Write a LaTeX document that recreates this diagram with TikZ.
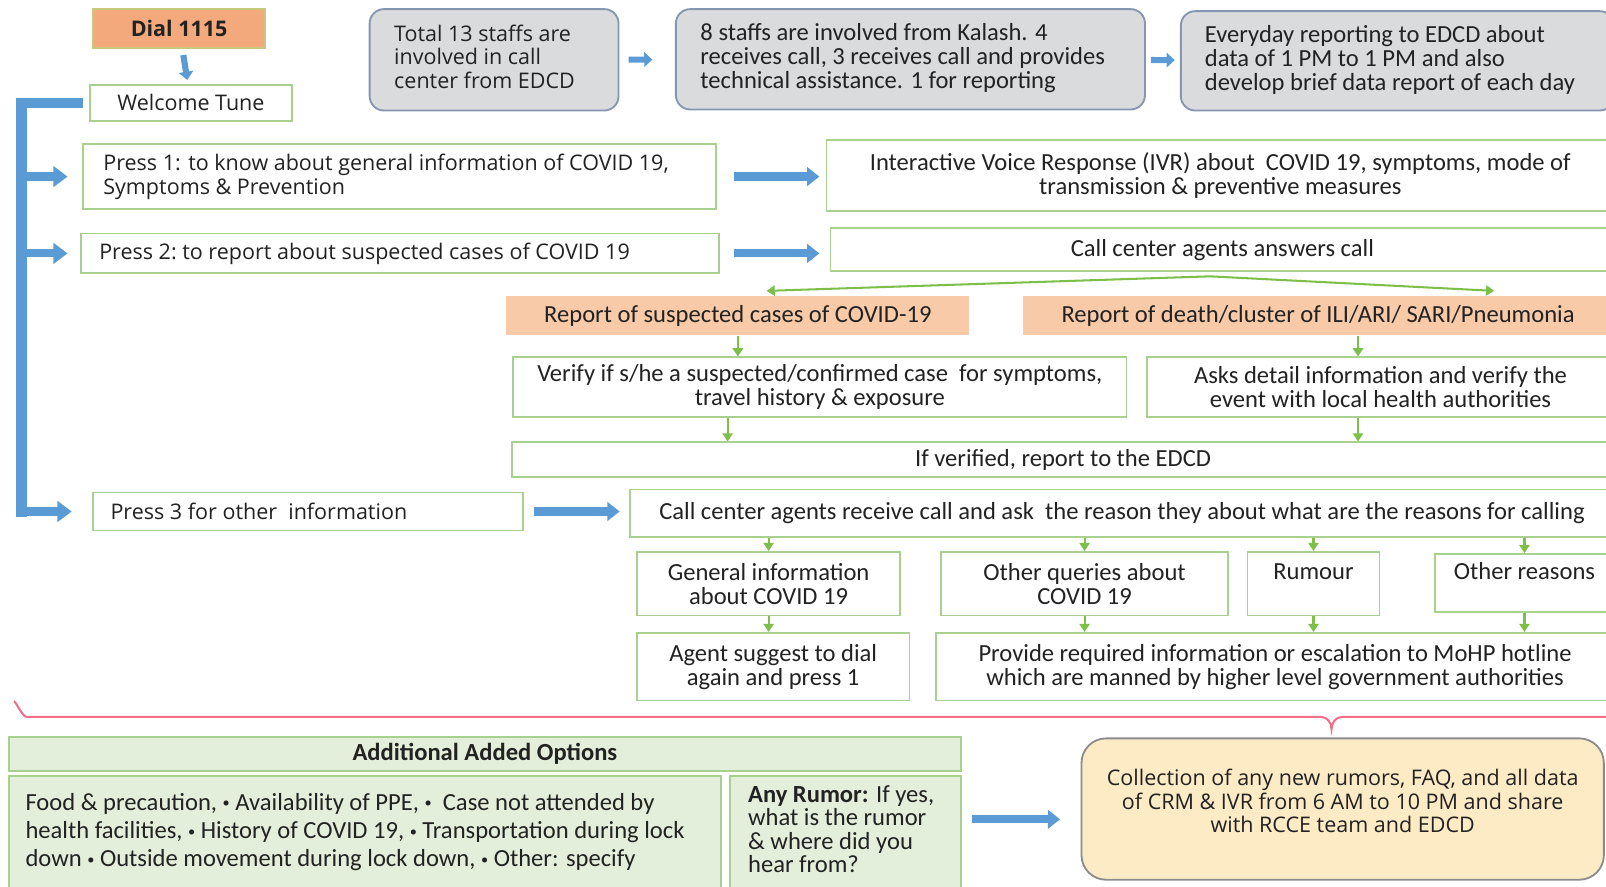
\documentclass[tikz,border=0pt]{standalone}
\usepackage{fontspec}
\setmainfont{Carlito}
\newfontfamily\osans{Open Sans}
\usepackage{xcolor}
\usetikzlibrary{arrows.meta,calc}

\definecolor{boxgreen}{HTML}{A9D18E}
\definecolor{arrgreen}{HTML}{7CC04A}
\definecolor{arrblue}{HTML}{5B9BD5}
\definecolor{dialfill}{HTML}{F4A97C}
\definecolor{dialline}{HTML}{C9C77C}
\definecolor{repfill}{HTML}{F8CAA8}
\definecolor{stafffill}{HTML}{DADBDD}
\definecolor{staffline}{HTML}{8496B0}
\definecolor{collfill}{HTML}{FDEBC6}
\definecolor{collline}{HTML}{8C8C8C}
\definecolor{optfill}{HTML}{E3EFDA}
\definecolor{bracered}{HTML}{F0708A}
\definecolor{txt}{HTML}{222222}

\newcommand\calfont{\fontsize{12}{11.8}\selectfont}
\newcommand\osfont{\osans\fontsize{10.5}{11.5}\selectfont}
\newcommand\bul{{\fontsize{7}{7}\selectfont\raisebox{1.2pt}{•}}}

\tikzset{
  sz/.style 2 args={anchor=north west, minimum width=#1*0.5pt, minimum height=#2*0.5pt},
  gbox/.style={draw=boxgreen, line width=0.9pt, fill=white, inner sep=0pt, align=center, text=txt, font=\calfont},
  pbox/.style={gbox, align=flush left, font=\osfont},
  repbox/.style={fill=repfill, inner sep=0pt, align=center, text=txt, font=\calfont},
  dialbox/.style={draw=dialline, line width=0.9pt, fill=dialfill, inner sep=0pt, text=txt, font=\osans\bfseries\fontsize{10.5}{12}\selectfont},
  staffbox/.style={draw=staffline, line width=0.9pt, fill=stafffill, rounded corners=7pt, inner sep=0pt, align=flush left, text=txt, font=\calfont},
  optbox/.style={draw=boxgreen, line width=0.9pt, fill=optfill, inner sep=0pt, text=txt, font=\calfont},
  collbox/.style={draw=collline, line width=0.9pt, fill=collfill, rounded corners=12pt, inner sep=0pt, align=center, text=txt, font=\osfont},
  barrow/.style={draw=arrblue, line width=4pt, -{Triangle[width=9pt,length=6pt]}},
  sarrow/.style={draw=arrblue, line width=3pt, -{Triangle[width=7pt,length=4pt]}},
  larrow/.style={draw=arrblue, line width=4pt, -{Triangle[width=10pt,length=7pt]}},
  bbar/.style={draw=arrblue, line width=5pt, line join=miter},
  garrow/.style={draw=arrgreen, line width=1pt, -{Triangle[width=5pt,length=4pt]}},
  brace/.style={draw=bracered, line width=1pt}
}

\begin{document}
\begin{tikzpicture}[x=0.5pt, y=-0.5pt]
\useasboundingbox (0,0) rectangle (1568,866);
\clip (0,0) rectangle (1568,866);

\node[dialbox, sz={168}{38}] (dial) at (90,8) {Dial 1115};
\node[pbox, align=center, sz={197}{35}] (welcome) at (87,82) {Welcome Tune};

\node[staffbox, font=\osfont, text width=97.5pt, sz={243}{99}] (total) at (360,8) {Total 13 staffs are\\involved in call\\center from EDCD\\[-8.5pt]\mbox{}};
\node[staffbox, text width=205pt, sz={458}{98}] (kalash) at (659,8) {8 staffs are involved from Kalash. 4\\receives call, 3 receives call and provides\\technical assistance. 1 for reporting\\[-8.8pt]\mbox{}};
\node[staffbox, text width=188pt, sz={423}{97}] (daily) at (1152,10) {Everyday reporting to EDCD about\\data of 1 PM to 1 PM and also\\develop brief data report of each day\\[-8.8pt]\mbox{}};

\node[pbox, text width=289pt, sz={618}{63}] (press1) at (80,140) {Press 1: to know about general information of COVID 19,\\Symptoms \& Prevention};
\node[gbox, sz={769}{69}] (ivr) at (806,136) {Interactive Voice Response (IVR) about\ \ COVID 19, symptoms, mode of\\transmission \& preventive measures};

\node[pbox, text width=293.5pt, sz={623}{39}] (press2) at (78,227) {Press 2:\ to report about suspected cases of COVID 19};
\node[gbox, sz={765}{42}] (ans) at (810,222) {Call center agents answers call};

\node[repbox, sz={452}{38}] (rsus) at (494,289) {Report of suspected cases of COVID-19};
\node[repbox, sz={577}{38}] (rdeath) at (998,289) {Report of death/cluster of ILI/ARI/ SARI/Pneumonia};

\node[gbox, sz={599}{58}] (verify) at (500,348) {Verify if s/he a suspected/confirmed case\ \ for symptoms,\\travel history \& exposure};
\node[gbox, sz={456}{58}] (asks) at (1119,348) {Asks detail information and verify the\\event with local health authorities};
\node[gbox, sz={1076}{34}] (ifver) at (499,431) {If verified, report to the EDCD};

\node[pbox, text width=193pt, sz={420}{37}] (press3) at (90,480) {Press 3 for other\ \ information};
\node[gbox, sz={961}{46}] (recv) at (614,477) {Call center agents receive call and ask\ \ the reason they about what are the reasons for calling};

\node[gbox, sz={257}{62}] (gen) at (621,538) {General information\\about COVID 19};
\node[gbox, sz={280}{62}] (oque) at (918,538) {Other queries about\\COVID 19};
\node[gbox, sz={129}{62}] (rum) at (1217,538) {Rumour\\\mbox{}};
\node[gbox, sz={175}{57}] (oreas) at (1400,540) {Other reasons\\\mbox{}};
\node[gbox, sz={266}{66}] (agent) at (621,617) {Agent suggest to dial\\again and press 1};
\node[gbox, sz={662}{66}] (prov) at (913,617) {Provide required information or escalation to MoHP hotline\\which are manned by higher level government authorities};

\node[optbox, font=\calfont\bfseries, sz={929}{33}] (addopt) at (8,719) {Additional Added Options};
\node[optbox, align=flush left, text width=331.5pt, font=\fontsize{12}{13.75}\selectfont, sz={695}{113}] (food) at (8,757) {Food \& precaution, \bul\ Availability of PPE, \bul\ \ Case not attended by\\health facilities, \bul\ History of COVID 19, \bul\ Transportation during lock\\down \bul\ Outside movement during lock down, \bul\ Other: specify\\[-9.75pt]\mbox{}};
\node[optbox, align=flush left, text width=95pt, font=\fontsize{12}{11.4}\selectfont, sz={225}{113}] (anyr) at (712,757) {\textbf{Any Rumor:} If yes,\\what is the rumor\\\& where did you\\hear from?\\[-6.4pt]\mbox{}};
\node[collbox, sz={510}{138}] (coll) at (1055,720) {Collection of any new rumors, FAQ, and all data\\of CRM \& IVR from 6 AM to 10 PM and share\\with RCCE team and EDCD\\[-3.5pt]\mbox{}};

\draw[sarrow, shorten <=3pt, shorten >=2pt] (dial) -- (welcome);
\draw[sarrow, shorten <=4.5pt, shorten >=11pt] (total) -- (kalash);
\draw[sarrow, shorten <=2.5pt, shorten >=2.5pt] (kalash) -- (daily);

\coordinate (bk) at (21,505);
\draw[bbar, shorten <=3pt] (welcome.west) -| (bk);
\draw[larrow, shorten >=7pt] (press1.west -| bk) -- (press1.west);
\draw[larrow, shorten >=6pt] (press2.west -| bk) -- (press2.west);
\draw[larrow, shorten >=10pt] (press3.west -| bk) -- (press3.west);

\draw[barrow, shorten <=8.5pt, shorten >=3pt] (press1.east) -- (press1.east -| ivr.west);
\draw[barrow, shorten <=7pt, shorten >=5pt] (press2.east) -- (press2.east -| ans.west);
\draw[barrow, shorten <=5pt, shorten >=4.5pt] (press3.east) -- (press3.east -| recv.west);

\coordinate (split) at ($(ans.south)+(-12,4)$);
\draw[garrow] (split) -- ($(rsus.north)+(28,-5)$);
\draw[garrow] (split) -- ($(rdeath.north)+(172,-5)$);
\draw[garrow] (rsus.south) -- (rsus.south |- verify.north);
\draw[garrow] ($(rdeath.south -| asks.north)+(-22,0)$) -- ($(asks.north)+(-22,0)$);
\draw[garrow] ($(verify.south)+(-90,0)$) -- ($(verify.south |- ifver.north)+(-90,0)$);
\draw[garrow] ($(asks.south)+(-22,0)$) -- ($(asks.south |- ifver.north)+(-22,0)$);

\draw[garrow] (gen.north |- recv.south) -- (gen.north);
\draw[garrow] (oque.north |- recv.south) -- (oque.north);
\draw[garrow] (rum.north |- recv.south) -- (rum.north);
\draw[garrow] (oreas.north |- recv.south) -- (oreas.north);
\draw[garrow] (gen.south) -- (gen.south |- agent.north);
\draw[garrow] (oque.south) -- (oque.south |- prov.north);
\draw[garrow] (rum.south) -- (rum.south |- prov.north);
\draw[garrow] (oreas.south) -- (oreas.south |- prov.north);

\draw[brace] (14,686) to[out=90,in=180,looseness=0.6] (26,700) -- (1290,700) to[out=0,in=90] (1300,712)
  to[out=90,in=180] (1310,700) -- (1580,700);

\coordinate (collin) at ($(coll.west)+(0,10)$);
\draw[barrow, shorten <=5pt, shorten >=10pt] (collin -| anyr.east) -- (collin);
\end{tikzpicture}
\end{document}
